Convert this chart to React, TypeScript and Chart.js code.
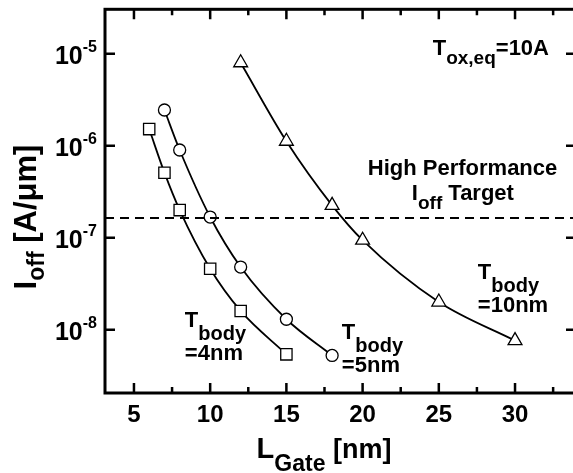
import React, { useEffect, useRef } from 'react';
import { Chart, registerables } from 'chart.js';

Chart.register(...registerables);

// ---- data ----
const gateLengths4 = [6, 7, 8, 10, 12, 15];
const ioff4 = [1.52e-6, 5.1e-7, 2.0e-7, 4.6e-8, 1.6e-8, 5.4e-9];
const gateLengths5 = [7, 8, 10, 12, 15, 18];
const ioff5 = [2.45e-6, 9.0e-7, 1.68e-7, 4.8e-8, 1.3e-8, 5.25e-9];
const gateLengths10 = [12, 15, 18, 20, 25, 30];
const ioff10 = [8.0e-6, 1.12e-6, 2.25e-7, 9.4e-8, 2.0e-8, 7.6e-9];
const targetIoff = 1.64e-7;
const xMajorTicks = [5, 10, 15, 20, 25, 30];
const xMinorTicks = [7.5, 12.5, 17.5, 22.5, 27.5, 32.5];
const yTickExponents = [-5, -6, -7, -8];
const X_MIN = 3.1;
const X_MAX = 34;
const Y_MIN = 2.05e-9;
const Y_MAX = 3.05e-5;

const FONT = '"Liberation Sans", Arial, Helvetica, sans-serif';

type Part = { t: string; size: number; dy?: number };

function partsWidth(ctx: CanvasRenderingContext2D, parts: Part[]) {
  let w = 0;
  for (const p of parts) {
    ctx.font = `bold ${p.size}px ${FONT}`;
    w += ctx.measureText(p.t).width;
  }
  return w;
}

function drawParts(
  ctx: CanvasRenderingContext2D,
  parts: Part[],
  x: number,
  y: number,
  align: 'left' | 'right' | 'center' = 'left'
) {
  const w = partsWidth(ctx, parts);
  let cx = align === 'left' ? x : align === 'right' ? x - w : x - w / 2;
  ctx.textAlign = 'left';
  ctx.textBaseline = 'alphabetic';
  for (const p of parts) {
    ctx.font = `bold ${p.size}px ${FONT}`;
    ctx.fillText(p.t, cx, y + (p.dy || 0));
    cx += ctx.measureText(p.t).width;
  }
}

// annotation anchors in data coordinates
const annotations: { x: number; y: number; lines: { parts: Part[]; dy: number }[] }[] = [
  {
    x: 24.6,
    y: 9.76e-6,
    lines: [
      {
        dy: 0,
        parts: [
          { t: 'T', size: 22 },
          { t: 'ox,eq', size: 19, dy: 9 },
          { t: '=10A', size: 22 },
        ],
      },
    ],
  },
  {
    x: 20.34,
    y: 4.76e-7,
    lines: [{ dy: 0, parts: [{ t: 'High Performance', size: 22 }] }],
  },
  {
    x: 23.23,
    y: 2.56e-7,
    lines: [
      {
        dy: 0,
        parts: [
          { t: 'I', size: 22 },
          { t: 'off', size: 19, dy: 9 },
          { t: ' Target', size: 22 },
        ],
      },
    ],
  },
  {
    x: 27.56,
    y: 3.53e-8,
    lines: [
      { dy: 0, parts: [{ t: 'T', size: 22 }, { t: 'body', size: 20, dy: 13 }] },
      { dy: 33, parts: [{ t: '=10nm', size: 22 }] },
    ],
  },
  {
    x: 18.64,
    y: 8.0e-9,
    lines: [
      { dy: 0, parts: [{ t: 'T', size: 22 }, { t: 'body', size: 20, dy: 13 }] },
      { dy: 33, parts: [{ t: '=5nm', size: 22 }] },
    ],
  },
  {
    x: 8.34,
    y: 1.08e-8,
    lines: [
      { dy: 0, parts: [{ t: 'T', size: 22 }, { t: 'body', size: 20, dy: 13 }] },
      { dy: 33, parts: [{ t: '=4nm', size: 22 }] },
    ],
  },
];

const framePlugin = {
  id: 'frameAndText',
  afterDraw(chart: any) {
    const ctx: CanvasRenderingContext2D = chart.ctx;
    const { left, right, top, bottom } = chart.chartArea;
    const xs = chart.scales.x;
    const ys = chart.scales.y;
    ctx.save();
    ctx.setLineDash([]);
    ctx.strokeStyle = '#000';
    ctx.fillStyle = '#000';
    ctx.lineWidth = 3;
    ctx.strokeRect(left, top, right - left, bottom - top);

    // inward ticks
    ctx.lineWidth = 2.5;
    ctx.beginPath();
    for (const v of xMajorTicks) {
      const px = xs.getPixelForValue(v);
      ctx.moveTo(px, bottom);
      ctx.lineTo(px, bottom - 10);
      ctx.moveTo(px, top);
      ctx.lineTo(px, top + 10);
    }
    for (const v of xMinorTicks) {
      const px = xs.getPixelForValue(v);
      ctx.moveTo(px, bottom);
      ctx.lineTo(px, bottom - 6);
      ctx.moveTo(px, top);
      ctx.lineTo(px, top + 6);
    }
    for (const e of yTickExponents) {
      const py = ys.getPixelForValue(Math.pow(10, e));
      ctx.moveTo(left, py);
      ctx.lineTo(left + 10, py);
      ctx.moveTo(right, py);
      ctx.lineTo(right - 10, py);
    }
    ctx.stroke();

    // tick labels
    for (const v of xMajorTicks) {
      const px = xs.getPixelForValue(v);
      drawParts(ctx, [{ t: String(v), size: 24 }], px, bottom + 29, 'center');
    }
    for (const e of yTickExponents) {
      const py = ys.getPixelForValue(Math.pow(10, e));
      drawParts(
        ctx,
        [
          { t: '10', size: 25 },
          { t: String(e), size: 16, dy: -12 },
        ],
        left - 8,
        py + 10,
        'right'
      );
    }

    // axis titles
    drawParts(
      ctx,
      [
        { t: 'L', size: 29 },
        { t: 'Gate', size: 23, dy: 13 },
        { t: ' [nm]', size: 27 },
      ],
      324,
      458,
      'center'
    );
    ctx.save();
    ctx.translate(36, 217);
    ctx.rotate(-Math.PI / 2);
    drawParts(
      ctx,
      [
        { t: 'I', size: 31 },
        { t: 'off', size: 23, dy: 8 },
        { t: ' [A/\u03bcm]', size: 31 },
      ],
      0,
      0,
      'center'
    );
    ctx.restore();

    // annotations
    for (const a of annotations) {
      const px = xs.getPixelForValue(a.x);
      const py = ys.getPixelForValue(a.y);
      for (const l of a.lines) {
        drawParts(ctx, l.parts, px, py + l.dy, 'left');
      }
    }
    ctx.restore();
  },
};

function series(xs: number[], ys: number[]) {
  return xs.map((x, i) => ({ x, y: ys[i] }));
}

export default function App() {
  const ref = useRef<HTMLCanvasElement | null>(null);
  useEffect(() => {
    if (!ref.current) return;
    const common = {
      borderColor: '#000',
      borderWidth: 1.8,
      pointBackgroundColor: '#fff',
      pointBorderColor: '#000',
      pointBorderWidth: 1.3,
      cubicInterpolationMode: 'monotone' as const,
      fill: false,
    };
    const chart = new Chart(ref.current, {
      type: 'line',
      data: {
        datasets: [
          {
            label: 'target',
            data: [
              { x: X_MIN, y: targetIoff },
              { x: X_MAX, y: targetIoff },
            ],
            borderColor: '#000',
            borderWidth: 2,
            borderDash: [9, 6],
            pointRadius: 0,
            fill: false,
          },
          { label: 'Tbody=4nm', data: series(gateLengths4, ioff4), pointStyle: 'rect', pointRadius: 8, ...common },
          { label: 'Tbody=5nm', data: series(gateLengths5, ioff5), pointStyle: 'circle', pointRadius: 6, ...common },
          { label: 'Tbody=10nm', data: series(gateLengths10, ioff10), pointStyle: 'triangle', pointRadius: 8, ...common },
        ],
      },
      options: {
        responsive: false,
        animation: false,
        devicePixelRatio: 1,
        layout: { padding: { left: 105, top: 5, right: 14, bottom: 80 } },
        plugins: { legend: { display: false }, tooltip: { enabled: false } },
        events: [],
        scales: {
          x: { type: 'linear', min: X_MIN, max: X_MAX, display: false },
          y: { type: 'logarithmic', min: Y_MIN, max: Y_MAX, display: false },
        },
      },
      plugins: [framePlugin],
    });
    return () => chart.destroy();
  }, []);
  return (
    <div
      style={{
        position: 'fixed',
        left: 0,
        top: 0,
        width: 573,
        height: 473,
        overflow: 'hidden',
        background: '#fff',
      }}
    >
      <canvas ref={ref} width={590} height={473} style={{ display: 'block' }} />
    </div>
  );
}
